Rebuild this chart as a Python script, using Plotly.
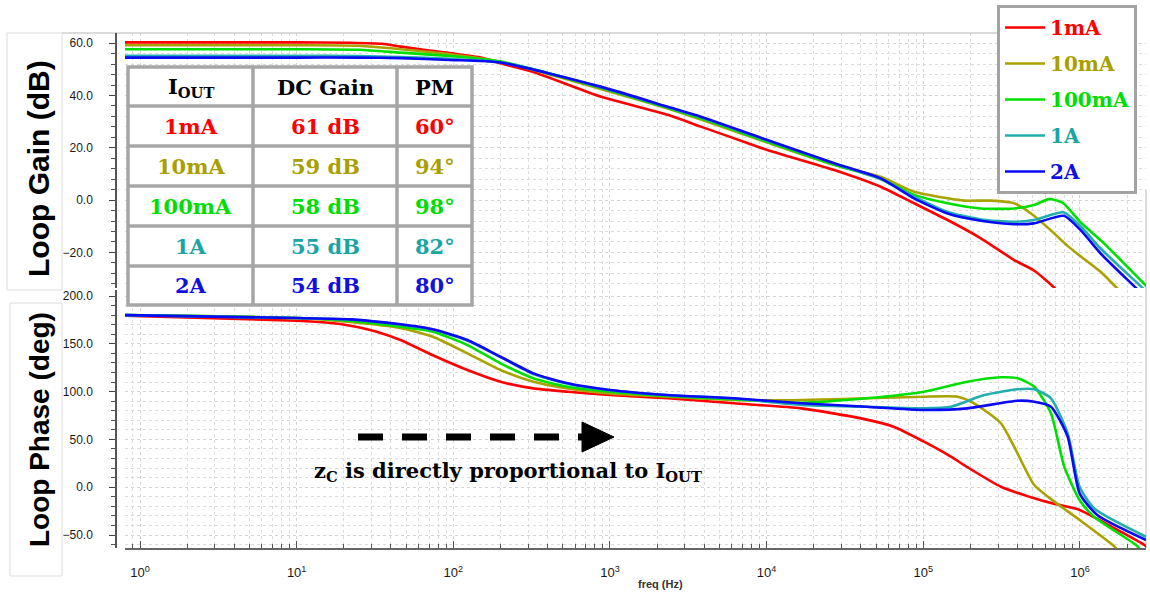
import plotly.graph_objects as go

# ---------------- data ----------------
series_names = ["1mA", "10mA", "100mA", "1A", "2A"]
line_colors = ["#ff0000", "#a9a200", "#00e000", "#22aeae", "#0a0af5"]
text_colors = ["#ff0000", "#a8a000", "#00dd00", "#1aa5a5", "#1010e0"]

# Loop gain (dB) vs frequency (Hz)
gain_f_1mA = [0.8, 10, 22, 35, 46, 95, 150, 200, 324, 870, 2340, 3800, 8000, 10100, 27000, 53500, 87300, 143000, 233000, 380000, 511000, 686000, 760000]
gain_1mA = [60.3, 60.3, 60.2, 59.8, 58.7, 56.2, 54.5, 52.3, 49.0, 39.6, 32.6, 28.1, 21.3, 19.2, 11.5, 5.1, -1.2, -7.6, -14.6, -22.9, -27.0, -33.5, -37.0]

gain_f_10mA = [0.8, 10, 25, 46, 95, 200, 870, 2340, 3800, 10100, 27000, 53500, 87300, 143000, 182000, 270000, 380000, 487000, 637000, 834000, 1010000, 1360000, 1720000, 1900000]
gain_10mA = [59.2, 59.2, 59.0, 57.7, 55.8, 53.0, 42.5, 35.0, 30.8, 22.0, 13.5, 8.9, 3.2, 0.7, -0.2, -0.2, -1.2, -5.1, -11.0, -17.5, -21.5, -27.5, -33.6, -36.0]

gain_f_100mA = [0.8, 10, 25, 46, 95, 200, 870, 2340, 3800, 10100, 27000, 53500, 87300, 143000, 233000, 380000, 508000, 634000, 775000, 1010000, 1360000, 2640000, 2850000]
gain_100mA = [57.7, 57.7, 57.5, 56.4, 55.1, 53.0, 43.0, 35.2, 31.3, 22.3, 13.5, 8.3, 2.0, -1.2, -3.2, -3.2, -1.9, 0.4, -1.0, -8.5, -15.4, -32.7, -35.0]

gain_f_1A = [0.8, 10, 25, 46, 95, 200, 870, 2340, 3800, 10100, 27000, 53500, 87300, 143000, 233000, 380000, 508000, 790000, 1010000, 1360000, 2510000, 2700000]
gain_1A = [55.2, 55.2, 55.1, 54.7, 54.0, 52.7, 43.2, 35.5, 31.7, 22.8, 14.0, 8.0, 1.3, -4.5, -7.4, -8.3, -7.6, -4.7, -10.0, -18.6, -33.6, -35.5]

gain_f_2A = [0.8, 10, 25, 46, 95, 200, 870, 2340, 3800, 10100, 27000, 53500, 87300, 143000, 233000, 380000, 508000, 790000, 1010000, 1360000, 2280000, 2450000]
gain_2A = [54.5, 54.5, 54.5, 54.3, 53.6, 52.6, 43.4, 35.7, 31.9, 23.0, 14.1, 8.3, 0.7, -5.1, -7.9, -9.2, -8.9, -6.0, -11.5, -20.5, -33.6, -35.5]

# Loop phase (deg) vs frequency (Hz)
phase_f_1mA = [0.8, 10, 16, 22, 32, 46, 74, 123, 200, 324, 537, 1000, 2340, 6170, 16600, 40000, 64600, 101000, 150000, 191000, 313000, 511000, 653000, 995000, 1740000, 2580000, 2800000]
phase_1mA = [179.5, 174.2, 172.0, 169.0, 163.0, 154.0, 138.0, 122.6, 110.4, 103.4, 99.9, 96.4, 93.0, 87.8, 82.5, 72.0, 63.3, 47.6, 32.0, 21.0, 0.5, -11.6, -16.5, -23.8, -44.8, -60.5, -66.0]

phase_f_10mA = [0.8, 10, 22, 46, 74, 123, 200, 324, 537, 1000, 2340, 6170, 16600, 43600, 101000, 166000, 211000, 313000, 380000, 511000, 686000, 995000, 1620000, 1750000]
phase_10mA = [180.0, 177.0, 172.8, 166.5, 157.4, 140.0, 122.6, 110.4, 103.4, 98.2, 94.7, 91.2, 91.2, 93.0, 94.7, 94.7, 87.8, 66.9, 42.4, 2.3, -15.1, -34.3, -60.5, -66.0]

phase_f_100mA = [0.8, 10, 22, 46, 74, 123, 200, 324, 537, 1000, 2340, 6170, 16600, 43600, 101000, 191000, 313000, 400000, 511000, 653000, 794000, 995000, 1230000, 2280000, 2450000]
phase_100mA = [180.0, 177.0, 174.0, 167.9, 162.7, 148.7, 129.6, 113.9, 105.1, 99.9, 95.4, 92.0, 88.4, 93.0, 99.9, 110.4, 115.0, 113.9, 105.1, 77.3, 21.5, -13.4, -30.9, -60.5, -66.0]

phase_f_1A = [0.8, 10, 22, 46, 74, 123, 200, 324, 537, 1000, 2340, 6170, 16600, 43600, 101000, 150000, 245000, 400000, 511000, 653000, 834000, 995000, 1230000, 2640000]
phase_1A = [180.0, 177.0, 175.4, 170.0, 164.8, 153.5, 136.0, 118.5, 108.3, 101.4, 96.2, 92.8, 86.1, 84.2, 82.5, 84.2, 96.4, 102.4, 102.4, 93.0, 56.4, 0.5, -22.1, -51.8]

phase_f_2A = [0.8, 10, 22, 46, 74, 123, 200, 324, 537, 1000, 2340, 6170, 16600, 43600, 101000, 191000, 400000, 511000, 653000, 834000, 995000, 1290000, 2640000]
phase_2A = [180.0, 177.0, 175.6, 170.4, 165.2, 154.0, 136.5, 119.1, 108.7, 101.7, 96.4, 93.0, 87.8, 84.2, 80.8, 82.5, 90.5, 89.4, 84.2, 53.1, -6.4, -29.1, -55.2]

gain_f = [gain_f_1mA, gain_f_10mA, gain_f_100mA, gain_f_1A, gain_f_2A]
gain_v = [gain_1mA, gain_10mA, gain_100mA, gain_1A, gain_2A]
phase_f = [phase_f_1mA, phase_f_10mA, phase_f_100mA, phase_f_1A, phase_f_2A]
phase_v = [phase_1mA, phase_10mA, phase_100mA, phase_1A, phase_2A]

# Table contents
table_header = ["I<sub>OUT</sub>", "DC Gain", "PM"]
table_iout = ["1mA", "10mA", "100mA", "1A", "2A"]
table_dc_gain = ["61 dB", "59 dB", "58 dB", "55 dB", "54 dB"]
table_pm = ["60°", "94°", "98°", "82°", "80°"]

x_tick_vals = [1, 10, 100, 1000, 10000, 100000, 1000000]
x_tick_text = ["10<sup>0</sup>", "10<sup>1</sup>", "10<sup>2</sup>", "10<sup>3</sup>",
               "10<sup>4</sup>", "10<sup>5</sup>", "10<sup>6</sup>"]

# ---------------- figure ----------------
W, H = 1150, 592


def px(x):
    return x / W


def py(y):
    return 1 - y / H


fig = go.Figure()
for i in range(5):
    fig.add_trace(go.Scatter(
        x=gain_f[i], y=gain_v[i], mode="lines",
        line=dict(color=line_colors[i], width=2.6, shape="spline", smoothing=0.6),
        name=f"<span style='color:{text_colors[i]}'>{series_names[i]}</span>",
        legendgroup=series_names[i], showlegend=True,
        xaxis="x2", yaxis="y2"))
for i in range(5):
    fig.add_trace(go.Scatter(
        x=phase_f[i], y=phase_v[i], mode="lines",
        line=dict(color=line_colors[i], width=2.6, shape="spline", smoothing=0.6),
        name=series_names[i], legendgroup=series_names[i], showlegend=False,
        xaxis="x", yaxis="y"))

minor_x = [k * 10 ** d for d in range(-1, 7) for k in range(2, 10)
           if 0.8 <= k * 10 ** d <= 2.64e6]

grid_common = dict(showgrid=True, gridcolor="#d4d4d4", griddash="dot", gridwidth=1, zeroline=False)
tickfont = dict(family="Liberation Sans, Arial", size=12, color="#1a1a1a")

xaxis_common = dict(
    type="log", range=[-0.0958, 6.4217], domain=[px(125), px(1146)],
    tickmode="array", tickvals=x_tick_vals, ticktext=x_tick_text,
    **grid_common)

fig.update_layout(
    width=W, height=H,
    margin=dict(l=0, r=0, t=0, b=0),
    paper_bgcolor="white", plot_bgcolor="white",
    xaxis=dict(anchor="y", ticks="inside", ticklen=7, tickcolor="#555",
               showline=True, linecolor="#666", linewidth=1.5,
               tickfont=dict(family="Liberation Sans, Arial", size=13, color="#1a1a1a"),
               ticklabelstandoff=12,
               minor=dict(tickmode="array", tickvals=minor_x, ticks="inside", ticklen=4,
                          tickcolor="#555", showgrid=True, gridcolor="#dcdcdc", griddash="dot"),
               **xaxis_common),
    xaxis2=dict(anchor="y2", matches="x", showticklabels=False, ticks="",
                showline=False,
                minor=dict(tickmode="array", tickvals=minor_x, ticks="",
                           showgrid=True, gridcolor="#dcdcdc", griddash="dot"),
                **xaxis_common),
    yaxis=dict(domain=[py(548), py(290)], range=[-63.6, 206.3],
               anchor="free", position=px(116),
               tickmode="linear", tick0=0, dtick=50, tickformat=".1f",
               ticks="outside", ticklen=6, tickcolor="#444",
               showline=True, linecolor="#555", linewidth=1.5,
               tickfont=tickfont, ticklabelstandoff=14,
               minor=dict(dtick=10, tick0=0, ticks="outside", ticklen=4, tickcolor="#555",
                          showgrid=True, gridcolor="#dcdcdc", griddash="dot"),
               **grid_common),
    yaxis2=dict(domain=[py(288), py(33)], range=[-33.6, 63.9],
                anchor="free", position=px(116),
                tickmode="linear", tick0=0, dtick=20, tickformat=".1f",
                ticks="outside", ticklen=6, tickcolor="#444",
                showline=True, linecolor="#555", linewidth=1.5,
                tickfont=tickfont, ticklabelstandoff=14,
                minor=dict(dtick=4, tick0=0, ticks="outside", ticklen=4, tickcolor="#555",
                           showgrid=True, gridcolor="#dcdcdc", griddash="dot"),
                **grid_common),
    legend=dict(x=px(997), y=py(5), xanchor="left", yanchor="top",
                bgcolor="white", bordercolor="#a3a3a3", borderwidth=3,
                font=dict(family="DejaVu Serif", size=20, weight="bold"),
                tracegroupgap=7, itemwidth=40),
    showlegend=True,
)

shapes = []
annotations = []


def note(text, x, y, font, angle=0):
    annotations.append(dict(text=text, xref="paper", yref="paper", x=px(x), y=py(y),
                            xanchor="center", yanchor="middle", textangle=angle,
                            showarrow=False, font=font))


# frames around the picture parts
shapes.append(dict(type="line", xref="paper", yref="paper", x0=px(62), x1=px(997),
                   y0=py(33), y1=py(33), line=dict(color="#cfcfcf", width=1.5), layer="below"))
shapes.append(dict(type="line", xref="paper", yref="paper", x0=px(1146), x1=px(1146),
                   y0=py(190), y1=py(548), line=dict(color="#cfcfcf", width=1.5), layer="below"))
shapes.append(dict(type="rect", xref="paper", yref="paper", x0=px(7), x1=px(62),
                   y0=py(290), y1=py(33), line=dict(color="#dcdcdc", width=1)))
shapes.append(dict(type="rect", xref="paper", yref="paper", x0=px(10), x1=px(62),
                   y0=py(576), y1=py(303), line=dict(color="#dcdcdc", width=1)))

# axis titles
note("Loop Gain (dB)", 38, 169,
     dict(family="Liberation Sans, Arial", size=30, color="black", weight="bold"), -90)
note("Loop Phase (deg)", 39, 430,
     dict(family="Liberation Sans, Arial", size=28, color="black", weight="bold"), -90)
note("freq (Hz)", 660, 584, dict(family="Liberation Sans, Arial", size=11, color="#333", weight="bold"))

# table
tbl_x = [128, 253, 397, 472]
tbl_y = [67, 106, 146, 186, 226, 266, 305]
border = dict(color="#a6a6a6", width=3.5)
shapes.append(dict(type="rect", xref="paper", yref="paper", x0=px(tbl_x[0]), x1=px(tbl_x[-1]),
                   y0=py(tbl_y[-1]), y1=py(tbl_y[0]), fillcolor="white", line=border, layer="above"))
for xv in tbl_x[1:-1]:
    shapes.append(dict(type="line", xref="paper", yref="paper", x0=px(xv), x1=px(xv),
                       y0=py(tbl_y[-1]), y1=py(tbl_y[0]), line=border, layer="above"))
for yv in tbl_y[1:-1]:
    shapes.append(dict(type="line", xref="paper", yref="paper", x0=px(tbl_x[0]), x1=px(tbl_x[-1]),
                       y0=py(yv), y1=py(yv), line=border, layer="above"))

tfont = dict(family="DejaVu Serif", size=21, weight="bold")
col_c = [(tbl_x[j] + tbl_x[j + 1]) / 2 for j in range(3)]
for j, h in enumerate(table_header):
    note(h, col_c[j], (tbl_y[0] + tbl_y[1]) / 2 + 1, dict(tfont, color="black"))
for r in range(5):
    yc = (tbl_y[r + 1] + tbl_y[r + 2]) / 2
    for j, txt in enumerate([table_iout[r], table_dc_gain[r], table_pm[r]]):
        note(txt, col_c[j], yc, dict(tfont, color=text_colors[r]))

# dashed arrow + note
shapes.append(dict(type="line", xref="paper", yref="paper", x0=px(358), x1=px(582),
                   y0=py(437), y1=py(437), line=dict(color="black", width=7, dash="25px,19px")))
shapes.append(dict(type="path", xref="paper", yref="paper",
                   path=f"M {px(582)},{py(422)} L {px(614)},{py(437)} L {px(582)},{py(452)} Z",
                   fillcolor="black", line=dict(color="black", width=1)))
note("z<sub>C</sub> is directly proportional to I<sub>OUT</sub>", 508, 471,
     dict(family="DejaVu Serif", size=21, color="black", weight="bold"))

fig.update_layout(shapes=shapes, annotations=annotations)
fig.write_html("out.html", config={"displayModeBar": False},
               post_script="document.body.style.margin='0px';")
